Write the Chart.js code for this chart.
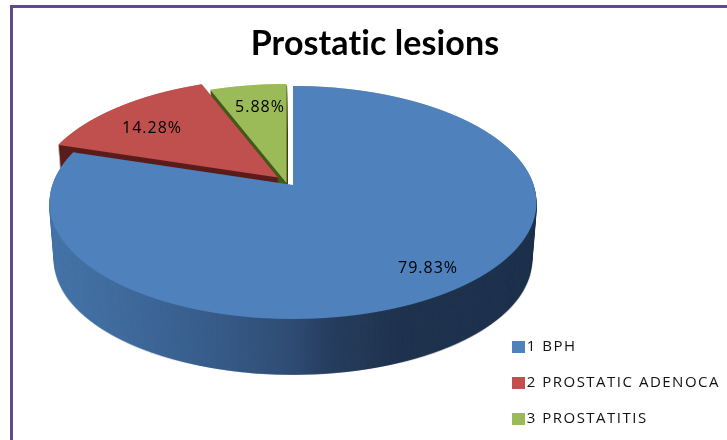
<!DOCTYPE html>
<html>
<head>
<meta charset="utf-8">
<style>
html,body{margin:0;padding:0;background:#fff}
canvas{display:block;filter:blur(0.55px)}
</style>
<script src="https://cdn.jsdelivr.net/npm/chart.js@4/dist/chart.umd.min.js"></script>
</head>
<body>
<canvas id="c" width="727" height="440"></canvas>
<script>
const categories = ['1 BPH', '2 PROSTATIC ADENOCA', '3 PROSTATITIS'];
const seriesValues = [79.83, 14.28, 5.88];
const chartTitle = 'Prostatic lesions';
const sliceColors = ['#4F81BD', '#C0504D', '#9BBB59'];
const wallColors = [null, '#5B1E1C', '#435C1C'];
const explode = [[1, 0], [-14, -7.5], [-5.5, -2]];
const labelAnchors = [[428, 268], [152, 128], [260, 107]];

// perspective of the pie's top face
const W = 727, H = 440;
const cx = 292, cy = 185, S = 113.9, R = 240.7, p = -0.15;
const depth = 58.5, shrink = 0.02;
const legendSpacing = '1.5px', labelSpacing = '1px', titleSpacing = '0.1px';

function makeCanvas(w, h) {
  const o = document.createElement('canvas');
  o.width = w; o.height = h;
  return o;
}
function legendSwatch(color) {
  const o = makeCanvas(13, 12);
  const g = o.getContext('2d');
  g.fillStyle = color;
  g.fillRect(0, 0, 13, 12);
  return o;
}
function drawFace(t, arc, dx, dy) {
  const r0 = arc.outerRadius, ex = arc.x, ey = arc.y;
  for (let y = 60; y < 340; y++) {
    const yp = y + 0.5 - cy - dy;
    const v = yp / (S - p * yp);
    if (Math.abs(v) > 1.03) continue;
    const w = 1 + p * v;
    const sx = R / w / r0;
    const sy = S / (w * w) / r0;
    t.save();
    t.setTransform(1, 0, 0, 1, 0, 0);
    t.beginPath();
    t.rect(0, y, W, 1);
    t.clip();
    t.setTransform(sx, 0, 0, sy, cx + dx - sx * ex, y + 0.5 - sy * (ey + v * r0));
    arc.draw(t);
    t.restore();
  }
}
const pie3d = {
  id: 'pie3d',
  beforeLayout(chart) {
    chart.ctx.letterSpacing = legendSpacing;
  },
  afterLayout(chart) {
    chart.ctx.letterSpacing = titleSpacing;
    const l = chart.legend;
    if (!l._wrapped) {
      const d = l.draw.bind(l);
      l.draw = (...a) => {
        chart.ctx.letterSpacing = legendSpacing;
        d(...a);
        chart.ctx.letterSpacing = titleSpacing;
      };
      l._wrapped = true;
    }
  },
  beforeDraw(chart) {
    const c = chart.ctx;
    c.save();
    c.fillStyle = '#fff';
    c.fillRect(0, 0, W, H);
    c.fillStyle = '#5F4A8B';
    c.fillRect(10, 5, W - 10, 3);
    c.fillRect(10, 5, 3, H - 5);
    c.restore();
  },
  beforeDatasetsDraw(chart) {
    const c = chart.ctx;
    const arcs = chart.getDatasetMeta(0).data;
    // back to front: green, red, blue
    [2, 1, 0].forEach(i => {
      const arc = arcs[i];
      const [dx, dy] = explode[i];
      const top = makeCanvas(W, H);
      drawFace(top.getContext('2d'), arc, dx, dy);
      const wall = makeCanvas(W, H);
      const wc = wall.getContext('2d');
      wc.drawImage(top, 0, 0);
      wc.globalCompositeOperation = 'source-in';
      if (wallColors[i]) {
        wc.fillStyle = wallColors[i];
      } else {
        const g = wc.createLinearGradient(50, 0, 537, 0);
        g.addColorStop(0, '#4776A9');
        g.addColorStop(0.164, '#406A9C');
        g.addColorStop(0.37, '#375A86');
        g.addColorStop(0.493, '#304D75');
        g.addColorStop(0.575, '#283F60');
        g.addColorStop(0.72, '#20344F');
        g.addColorStop(1, '#1F334E');
        wc.fillStyle = g;
      }
      wc.fillRect(0, 0, W, H);
      c.save();
      const N = Math.round(depth * 1.5);
      for (let k = N; k >= 1; k--) {
        const t = k / N;
        const s = 1 - shrink * t;
        c.setTransform(s, 0, 0, s, cx * (1 - s), cy * (1 - s) + depth * t);
        c.drawImage(wall, 0, 0);
      }
      c.setTransform(1, 0, 0, 1, 0, 0);
      c.drawImage(top, 0, 0);
      c.restore();
    });
    // percentage labels
    c.save();
    c.fillStyle = '#000';
    c.font = '16px "Open Sans"';
    c.letterSpacing = labelSpacing;
    c.textAlign = 'center';
    c.textBaseline = 'middle';
    seriesValues.forEach((val, i) => {
      c.fillText(val.toFixed(2) + '%', labelAnchors[i][0], labelAnchors[i][1]);
    });
    c.restore();
    return false;
  }
};

new Chart(document.getElementById('c'), {
  type: 'pie',
  data: {
    labels: categories,
    datasets: [{ data: seriesValues, backgroundColor: sliceColors, borderWidth: 0 }]
  },
  plugins: [pie3d],
  options: {
    responsive: false,
    animation: false,
    layout: { padding: { left: 20, right: -3, bottom: -7, top: 24 } },
    plugins: {
      tooltip: { enabled: false },
      title: {
        display: true,
        text: chartTitle,
        color: '#000',
        font: { family: 'Lato', size: 34, weight: 'bold' },
        padding: 0
      },
      legend: {
        position: 'right',
        align: 'end',
        labels: {
          color: '#111',
          font: { family: '"Open Sans"', size: 15 },
          usePointStyle: true,
          pointStyleWidth: 2,
          boxHeight: 12,
          padding: 21,
          generateLabels(chart) {
            const base = Chart.overrides.doughnut.plugins.legend.labels.generateLabels(chart);
            return base.map((it, i) => Object.assign(it, { pointStyle: legendSwatch(sliceColors[i]) }));
          }
        }
      }
    }
  }
});
</script>
</body>
</html>
